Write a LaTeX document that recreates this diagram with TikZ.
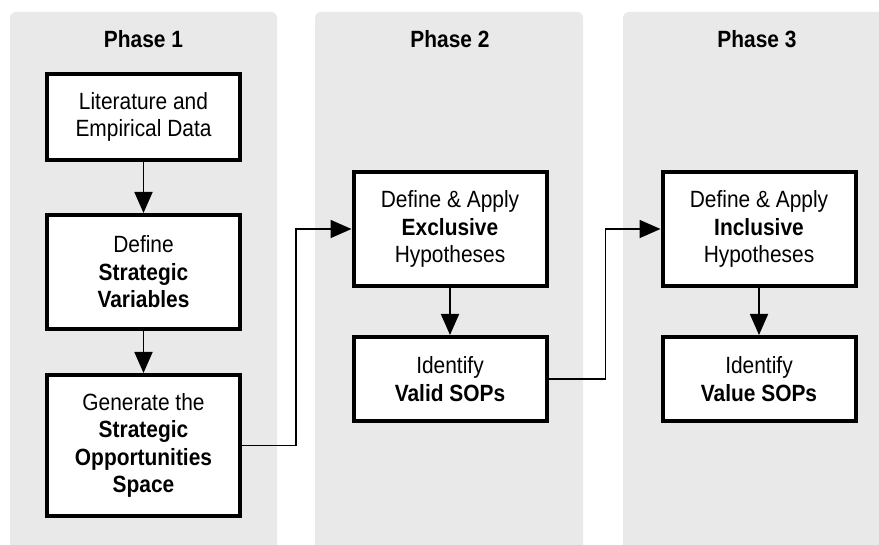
\documentclass[tikz,border=0pt]{standalone}
\usepackage{fontspec}
\setmainfont[FakeStretch=0.89]{Liberation Sans}
\definecolor{panelgray}{HTML}{E9E9E9}
\usetikzlibrary{arrows.meta,positioning}

\begin{document}
\begin{tikzpicture}[x=1pt,y=-1pt,
  stepbox/.style={draw,line width=4pt,fill=white,align=center,minimum width=193pt,inner sep=2pt,font=\fontsize{23.5}{27.5}\selectfont},
  arr/.style={line width=1.8pt,-{Triangle[length=21pt,width=18pt]}},
  phase/.style={font=\fontsize{23.5}{26}\selectfont\bfseries}]
  \useasboundingbox (0,0) rectangle (879,545);
  \clip (0,0) rectangle (879,545);
  % panels
  \fill[panelgray,rounded corners=6pt] (10,12) rectangle (277,570);
  \fill[panelgray,rounded corners=6pt] (315,12) rectangle (583,570);
  \fill[panelgray,rounded corners=6pt] (623,12) rectangle (900,570);
  \node[phase] (ph1) at (143.5,39) {Phase 1};
  \node[phase] (ph2) at (450,39) {Phase 2};
  \node[phase] (ph3) at (757,39) {Phase 3};
  % phase 1
  \node[stepbox,minimum height=86pt] (lit) at (143.5,117) {Literature and\\Empirical Data};
  \node[stepbox,minimum height=114pt] (def) at (143.5,272) {Define\\\textbf{Strategic}\\\textbf{Variables}};
  \node[stepbox,minimum height=141pt] (gen) at (143.5,445.5) {Generate the\\\textbf{Strategic}\\\textbf{Opportunities}\\\textbf{Space}};
  % phase 2
  \node[stepbox,minimum height=114pt] (exc) at (450,229) {Define \& Apply\\\textbf{Exclusive}\\Hypotheses};
  \node[stepbox,minimum height=84pt] (val) at (450,379) {Identify\\\textbf{Valid SOPs}};
  % phase 3
  \node[stepbox,minimum height=114pt] (inc) at (759,229) {Define \& Apply\\\textbf{Inclusive}\\Hypotheses};
  \node[stepbox,minimum height=84pt] (vsop) at (759,379) {Identify\\\textbf{Value SOPs}};
  \draw[arr] (lit) -- (def);
  \draw[arr] (def) -- (gen);
  \draw[arr] (exc) -- (val);
  \draw[arr] (inc) -- (vsop);
  \draw[arr] (gen.east) -- ++(54,0) |- (exc.west);
  \draw[arr] (val.east) -- ++(57,0) |- (inc.west);
\end{tikzpicture}
\end{document}
